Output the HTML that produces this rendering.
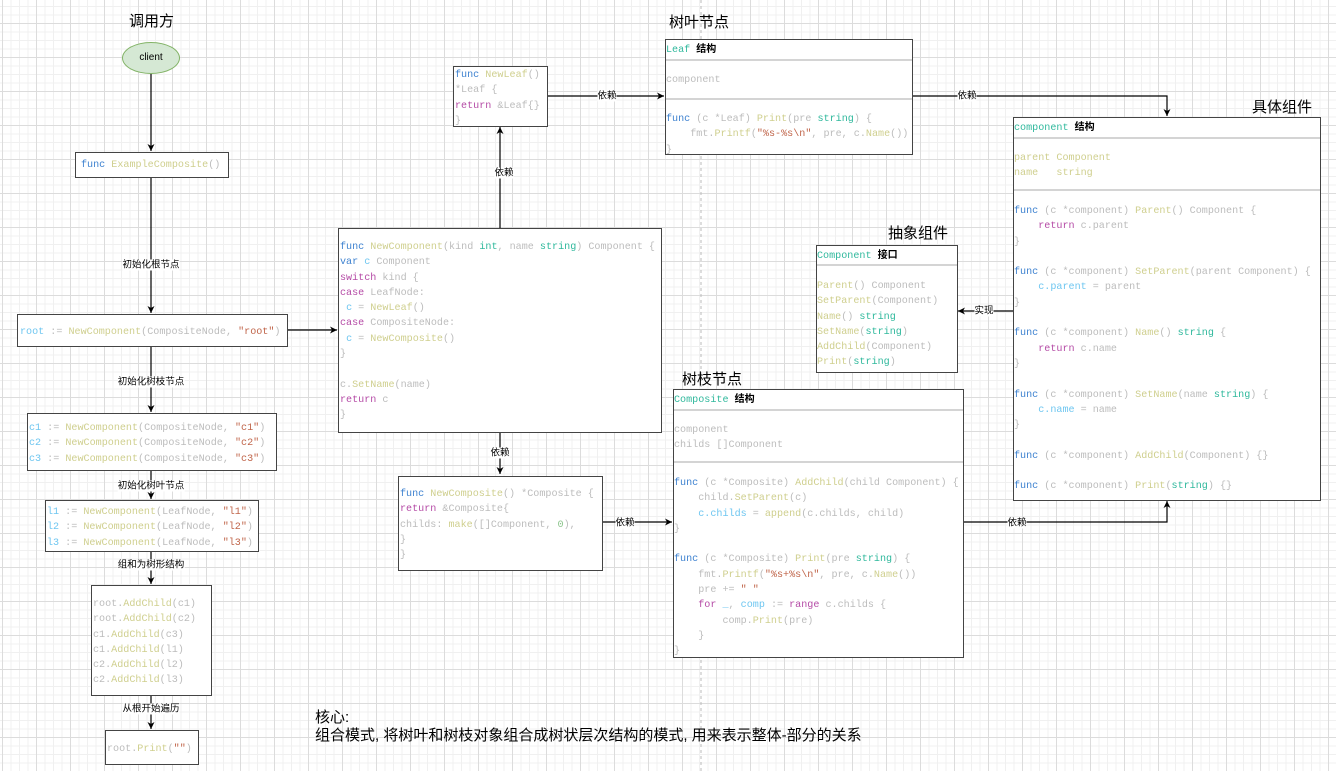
<!DOCTYPE html>
<html><head><meta charset="utf-8"><style>
body{margin:0;width:1336px;height:771px;overflow:hidden;position:relative;font-family:"Liberation Sans","Noto Sans CJK SC",sans-serif;
background-color:#fff;
background-image:
linear-gradient(to right,#dcdcdc 1px,transparent 1px),
linear-gradient(to bottom,#dcdcdc 1px,transparent 1px),
linear-gradient(to right,#f0f0f0 1px,transparent 1px),
linear-gradient(to bottom,#f0f0f0 1px,transparent 1px);
background-size:34px 34px,34px 34px,8.5px 8.5px,8.5px 8.5px;
background-position:2px 23px,2px 23px,2px 23px,2px 23px;}
.b{position:absolute;background:#fff;border:1.5px solid #444;box-sizing:border-box}
.c{position:absolute;font-family:"Liberation Mono","Noto Sans CJK SC",monospace;font-size:10.1px;line-height:15.3px;white-space:pre;color:#bcbcbc}
.k{color:#3e82d0}.f{color:#cfcf8e}.t{color:#2fb89c}.p{color:#b54ba6}.v{color:#6ec6f0}.s{color:#c0654a}.n{color:#8bc48b}
.h{color:#000;font-family:"Liberation Sans","Noto Sans CJK SC",sans-serif;font-weight:bold;font-size:10px}
.ti{position:absolute;font-size:15px;color:#000}
.lb{position:absolute;font-size:9.5px;color:#000;background:#fff;transform:translate(-50%,-50%);line-height:11px;white-space:nowrap}
.dv{position:absolute;height:2px;background:#d4d4d4}
</style></head><body>
<svg width="1336" height="771" style="position:absolute;left:0;top:0">
<defs><marker id="a" markerWidth="8" markerHeight="8" refX="7" refY="4" orient="auto" markerUnits="userSpaceOnUse"><path d="M0,0.5 L7,4 L0,7.5 L2,4z" fill="#000"/></marker></defs>
<line x1="701" y1="0" x2="701" y2="771" stroke="#bbb" stroke-dasharray="3,3"/>
<g stroke="#000" stroke-width="1.2" fill="none" marker-end="url(#a)">
<line x1="151" y1="74" x2="151" y2="151"/>
<line x1="151" y1="177" x2="151" y2="313"/>
<line x1="151" y1="346" x2="151" y2="412"/>
<line x1="151" y1="470" x2="151" y2="499"/>
<line x1="151" y1="551" x2="151" y2="584"/>
<line x1="151" y1="695" x2="151" y2="729"/>
<line x1="287" y1="330" x2="337" y2="330"/>
<line x1="500" y1="228" x2="500" y2="127"/>
<line x1="547" y1="96" x2="664" y2="96"/>
<polyline points="912,96 1167,96 1167,116"/>
<line x1="1013" y1="311" x2="958" y2="311"/>
<line x1="500" y1="432" x2="500" y2="474"/>
<line x1="602" y1="522" x2="672" y2="522"/>
<polyline points="963,522 1167,522 1167,501"/>
</g></svg>
<div class="ti" style="left:129px;top:10px">调用方</div>
<div class="ti" style="left:669px;top:11px">树叶节点</div>
<div class="ti" style="left:1252px;top:96px">具体组件</div>
<div class="ti" style="left:888px;top:222px">抽象组件</div>
<div class="ti" style="left:682px;top:368px">树枝节点</div>
<div class="ti" style="left:315px;top:709px;line-height:18px">核心:<br>组合模式, 将树叶和树枝对象组合成树状层次结构的模式, 用来表示整体-部分的关系</div>
<div style="position:absolute;left:122px;top:42px;width:58px;height:32px;border-radius:50%;background:#d5e8d4;border:1px solid #82b366;box-sizing:border-box;font-size:10px;text-align:center;line-height:30px">client</div>

<div class="lb" style="left:151px;top:265px">初始化根节点</div>
<div class="lb" style="left:151px;top:382px">初始化树枝节点</div>
<div class="lb" style="left:151px;top:486px">初始化树叶节点</div>
<div class="lb" style="left:151px;top:565px">组和为树形结构</div>
<div class="lb" style="left:151px;top:709px">从根开始遍历</div>
<div class="lb" style="left:504px;top:173px">依赖</div>
<div class="lb" style="left:607px;top:96px">依赖</div>
<div class="lb" style="left:967px;top:96px">依赖</div>
<div class="lb" style="left:984px;top:311px">实现</div>
<div class="lb" style="left:500px;top:453px">依赖</div>
<div class="lb" style="left:625px;top:523px">依赖</div>
<div class="lb" style="left:1017px;top:523px">依赖</div>

<div class="b" style="left:75px;top:152px;width:154px;height:26px"></div>
<div class="c" style="left:81px;top:158px"><span class="k">func</span> <span class="f">ExampleComposite</span>()</div>

<div class="b" style="left:17px;top:314px;width:271px;height:33px"></div>
<div class="c" style="left:20px;top:325px"><span class="v">root</span> := <span class="f">NewComponent</span>(CompositeNode, <span class="s">"root"</span>)</div>

<div class="b" style="left:27px;top:413px;width:250px;height:58px"></div>
<div class="c" style="left:29px;top:421px"><span class="v">c1</span> := <span class="f">NewComponent</span>(CompositeNode, <span class="s">"c1"</span>)
<span class="v">c2</span> := <span class="f">NewComponent</span>(CompositeNode, <span class="s">"c2"</span>)
<span class="v">c3</span> := <span class="f">NewComponent</span>(CompositeNode, <span class="s">"c3"</span>)</div>

<div class="b" style="left:45px;top:500px;width:214px;height:52px"></div>
<div class="c" style="left:47px;top:505px"><span class="v">l1</span> := <span class="f">NewComponent</span>(LeafNode, <span class="s">"l1"</span>)
<span class="v">l2</span> := <span class="f">NewComponent</span>(LeafNode, <span class="s">"l2"</span>)
<span class="v">l3</span> := <span class="f">NewComponent</span>(LeafNode, <span class="s">"l3"</span>)</div>

<div class="b" style="left:91px;top:585px;width:121px;height:111px"></div>
<div class="c" style="left:93px;top:597px">root.<span class="f">AddChild</span>(c1)
root.<span class="f">AddChild</span>(c2)
c1.<span class="f">AddChild</span>(c3)
c1.<span class="f">AddChild</span>(l1)
c2.<span class="f">AddChild</span>(l2)
c2.<span class="f">AddChild</span>(l3)</div>

<div class="b" style="left:105px;top:730px;width:94px;height:35px"></div>
<div class="c" style="left:107px;top:742px">root.<span class="f">Print</span>(<span class="s">""</span>)</div>

<div class="b" style="left:338px;top:228px;width:324px;height:205px"></div>
<div class="c" style="left:340px;top:240px"><span class="k">func</span> <span class="f">NewComponent</span>(kind <span class="t">int</span>, name <span class="t">string</span>) Component {
<span class="k">var</span> <span class="v">c</span> Component
<span class="p">switch</span> kind {
<span class="p">case</span> LeafNode:
 <span class="v">c</span> = <span class="f">NewLeaf</span>()
<span class="p">case</span> CompositeNode:
 <span class="v">c</span> = <span class="f">NewComposite</span>()
}

c.<span class="f">SetName</span>(name)
<span class="p">return</span> c
}</div>

<div class="b" style="left:453px;top:66px;width:95px;height:61px"></div>
<div class="c" style="left:455px;top:68px"><span class="k">func</span> <span class="f">NewLeaf</span>()
*Leaf {
<span class="p">return</span> &amp;Leaf{}
}</div>

<div class="b" style="left:665px;top:39px;width:248px;height:116px"></div>
<div class="dv" style="left:666px;top:59px;width:246px"></div>
<div class="dv" style="left:666px;top:98px;width:246px"></div>
<div class="c" style="left:666px;top:42px"><span class="t">Leaf</span> <span class="h">结构</span></div>
<div class="c" style="left:666px;top:73px">component</div>
<div class="c" style="left:666px;top:112px"><span class="k">func</span> (c *Leaf) <span class="f">Print</span>(pre <span class="t">string</span>) {
    fmt.<span class="f">Printf</span>(<span class="s">"%s-%s\n"</span>, pre, c.<span class="f">Name</span>())
}</div>

<div class="b" style="left:1013px;top:117px;width:308px;height:384px"></div>
<div class="dv" style="left:1014px;top:137px;width:306px"></div>
<div class="dv" style="left:1014px;top:189px;width:306px"></div>
<div class="c" style="left:1014px;top:120px"><span class="t">component</span> <span class="h">结构</span></div>
<div class="c" style="left:1014px;top:151px;color:#cfcf8e">parent Component
name   string</div>
<div class="c" style="left:1014px;top:204px;line-height:15.3px"><span class="k">func</span> (c *component) <span class="f">Parent</span>() Component {
    <span class="p">return</span> c.parent
}

<span class="k">func</span> (c *component) <span class="f">SetParent</span>(parent Component) {
    <span class="v">c.parent</span> = parent
}

<span class="k">func</span> (c *component) <span class="f">Name</span>() <span class="t">string</span> {
    <span class="p">return</span> c.name
}

<span class="k">func</span> (c *component) <span class="f">SetName</span>(name <span class="t">string</span>) {
    <span class="v">c.name</span> = name
}

<span class="k">func</span> (c *component) <span class="f">AddChild</span>(Component) {}

<span class="k">func</span> (c *component) <span class="f">Print</span>(<span class="t">string</span>) {}</div>

<div class="b" style="left:816px;top:245px;width:142px;height:128px"></div>
<div class="dv" style="left:817px;top:264px;width:140px"></div>
<div class="c" style="left:817px;top:248px"><span class="t">Component</span> <span class="h">接口</span></div>
<div class="c" style="left:817px;top:279px"><span class="f">Parent</span>() Component
<span class="f">SetParent</span>(Component)
<span class="f">Name</span>() <span class="t">string</span>
<span class="f">SetName</span>(<span class="t">string</span>)
<span class="f">AddChild</span>(Component)
<span class="f">Print</span>(<span class="t">string</span>)</div>

<div class="b" style="left:673px;top:389px;width:291px;height:269px"></div>
<div class="dv" style="left:674px;top:409px;width:289px"></div>
<div class="dv" style="left:674px;top:461px;width:289px"></div>
<div class="c" style="left:674px;top:392px"><span class="t">Composite</span> <span class="h">结构</span></div>
<div class="c" style="left:674px;top:423px">component
childs []Component</div>
<div class="c" style="left:674px;top:476px"><span class="k">func</span> (c *Composite) <span class="f">AddChild</span>(child Component) {
    child.<span class="f">SetParent</span>(c)
    <span class="v">c.childs</span> = <span class="f">append</span>(c.childs, child)
}

<span class="k">func</span> (c *Composite) <span class="f">Print</span>(pre <span class="t">string</span>) {
    fmt.<span class="f">Printf</span>(<span class="s">"%s+%s\n"</span>, pre, c.<span class="f">Name</span>())
    pre += <span class="s">" "</span>
    <span class="p">for</span> <span class="v">_</span>, <span class="v">comp</span> := <span class="p">range</span> c.childs {
        comp.<span class="f">Print</span>(pre)
    }
}</div>

<div class="b" style="left:398px;top:476px;width:205px;height:95px"></div>
<div class="c" style="left:400px;top:487px"><span class="k">func</span> <span class="f">NewComposite</span>() *Composite {
<span class="p">return</span> &amp;Composite{
childs: <span class="f">make</span>([]Component, <span class="n">0</span>),
}
}</div>
</body></html>
